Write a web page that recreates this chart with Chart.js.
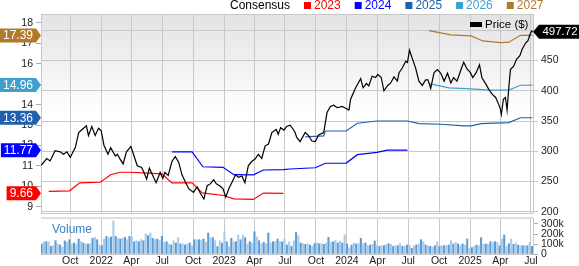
<!DOCTYPE html>
<html>
<head>
<meta charset="utf-8">
<script src="https://cdn.jsdelivr.net/npm/chart.js@4.4.1/dist/chart.umd.min.js"></script>
<style>
  html, body { margin: 0; padding: 0; background: #fff; }
  #wrap { position: relative; width: 579px; height: 266px; overflow: hidden; }
  #main { position: absolute; left: 0; top: 0; }
  #vol { position: absolute; left: 0; top: 208px; }
</style>
</head>
<body>
<div id="wrap">
  <canvas id="main" width="579" height="223"></canvas>
  <canvas id="vol" width="579" height="58"></canvas>
</div>
<script>
// ---- data ----
const quarterTicks = ['2021-10-01', '2022-01-01', '2022-04-01', '2022-07-01', '2022-10-01', '2023-01-01',
  '2023-04-01', '2023-07-01', '2023-10-01', '2024-01-01', '2024-04-01', '2024-07-01', '2024-10-01',
  '2025-01-01', '2025-04-01', '2025-07-01'];
const quarterLabels = ['Oct', '2022', 'Apr', 'Jul', 'Oct', '2023', 'Apr', 'Jul', 'Oct', '2024', 'Apr', 'Jul',
  'Oct', '2025', 'Apr', 'Jul'];
const epsTicks = [9, 10, 11, 12, 13, 14, 15, 16, 17, 18];
const priceTicks = [200, 250, 300, 350, 400, 450, 500];
const volumeTicks = [0, 100, 200, 300];

const price = [
  ['2021-07-07', 277], ['2021-07-23', 288], ['2021-08-02', 284], ['2021-08-17', 301], ['2021-09-01', 299],
  ['2021-09-11', 295], ['2021-09-21', 299], ['2021-10-01', 290], ['2021-10-16', 306], ['2021-10-26', 331],
  ['2021-11-05', 336], ['2021-11-18', 342], ['2021-11-24', 326], ['2021-12-04', 341], ['2021-12-14', 326],
  ['2021-12-24', 338], ['2022-01-01', 334], ['2022-01-09', 310], ['2022-01-21', 295], ['2022-01-29', 306],
  ['2022-02-12', 292], ['2022-02-18', 295], ['2022-02-26', 287], ['2022-03-07', 279], ['2022-03-17', 299],
  ['2022-03-30', 308], ['2022-04-08', 293], ['2022-04-18', 276], ['2022-05-01', 273], ['2022-05-08', 265],
  ['2022-05-16', 254], ['2022-05-24', 272], ['2022-06-03', 260], ['2022-06-13', 248], ['2022-06-25', 265],
  ['2022-07-03', 255], ['2022-07-09', 265], ['2022-07-19', 260], ['2022-07-30', 283], ['2022-08-09', 291],
  ['2022-08-19', 282], ['2022-08-29', 261], ['2022-09-08', 249], ['2022-09-18', 238], ['2022-10-02', 232],
  ['2022-10-13', 241], ['2022-10-23', 230], ['2022-11-02', 221], ['2022-11-12', 243], ['2022-11-21', 246],
  ['2022-12-01', 253], ['2022-12-09', 246], ['2022-12-19', 243], ['2022-12-29', 238], ['2023-01-06', 224],
  ['2023-01-15', 238], ['2023-01-25', 249], ['2023-02-04', 261], ['2023-02-13', 257], ['2023-02-23', 259],
  ['2023-03-04', 248], ['2023-03-14', 276], ['2023-03-24', 283], ['2023-04-03', 287], ['2023-04-13', 295],
  ['2023-04-23', 288], ['2023-05-03', 309], ['2023-05-13', 312], ['2023-05-23', 331], ['2023-06-05', 336],
  ['2023-06-11', 328], ['2023-06-18', 339], ['2023-06-28', 335], ['2023-07-06', 341], ['2023-07-16', 343],
  ['2023-07-26', 336], ['2023-07-31', 331], ['2023-08-05', 323], ['2023-08-15', 316], ['2023-08-30', 331],
  ['2023-09-09', 326], ['2023-09-19', 317], ['2023-09-29', 316], ['2023-10-09', 327], ['2023-10-24', 331],
  ['2023-11-03', 364], ['2023-11-13', 374], ['2023-11-23', 376], ['2023-12-03', 372], ['2023-12-18', 374],
  ['2023-12-28', 371], ['2024-01-07', 368], ['2024-01-12', 386], ['2024-01-27', 405], ['2024-02-11', 420],
  ['2024-02-18', 405], ['2024-02-28', 412], ['2024-03-06', 408], ['2024-03-16', 424], ['2024-03-26', 422],
  ['2024-04-02', 427], ['2024-04-12', 422], ['2024-04-20', 400], ['2024-04-30', 408], ['2024-05-10', 413],
  ['2024-05-20', 423], ['2024-05-30', 416], ['2024-06-04', 430], ['2024-06-14', 438], ['2024-06-24', 449],
  ['2024-06-29', 447], ['2024-07-05', 467], ['2024-07-13', 454], ['2024-07-23', 438], ['2024-08-02', 416],
  ['2024-08-12', 409], ['2024-08-22', 418], ['2024-08-29', 418], ['2024-09-06', 404], ['2024-09-16', 430],
  ['2024-09-26', 435], ['2024-10-06', 429], ['2024-10-16', 416], ['2024-10-26', 429], ['2024-11-05', 413],
  ['2024-11-13', 422], ['2024-11-23', 416], ['2024-11-30', 427], ['2024-12-07', 438], ['2024-12-13', 447],
  ['2024-12-23', 436], ['2025-01-02', 430], ['2025-01-09', 422], ['2025-01-19', 430], ['2025-01-29', 443],
  ['2025-02-05', 422], ['2025-02-17', 411], ['2025-02-26', 402], ['2025-03-08', 394], ['2025-03-18', 389],
  ['2025-03-25', 380], ['2025-03-31', 372], ['2025-04-04', 361], ['2025-04-10', 386], ['2025-04-16', 389],
  ['2025-04-21', 368], ['2025-04-26', 405], ['2025-05-01', 435], ['2025-05-11', 441], ['2025-05-19', 452],
  ['2025-05-29', 458], ['2025-06-05', 469], ['2025-06-15', 479], ['2025-06-22', 483], ['2025-06-28', 493],
  ['2025-07-03', 499], ['2025-07-06', 497.72]
];

const eps2023 = [
  ['2021-07-29', 9.75], ['2021-09-29', 9.78], ['2021-10-29', 10.17], ['2021-12-29', 10.20], ['2022-01-29', 10.57],
  ['2022-02-26', 10.69], ['2022-03-27', 10.69], ['2022-05-06', 10.66], ['2022-06-30', 10.61], ['2022-07-30', 10.17],
  ['2022-09-28', 10.17], ['2022-10-28', 9.68], ['2022-12-31', 9.55], ['2023-01-30', 9.39], ['2023-03-29', 9.36],
  ['2023-04-28', 9.67], ['2023-06-26', 9.66]
];
const eps2024 = [
  ['2022-07-30', 11.69], ['2022-09-28', 11.69], ['2022-10-30', 10.96], ['2022-12-29', 10.93], ['2023-01-30', 10.57],
  ['2023-03-29', 10.56], ['2023-04-28', 10.80], ['2023-06-26', 10.82], ['2023-07-16', 10.85], ['2023-09-29', 10.91],
  ['2023-10-29', 11.13], ['2023-12-30', 11.14], ['2024-02-01', 11.55], ['2024-03-30', 11.66], ['2024-04-30', 11.77],
  ['2024-06-29', 11.77]
];
const eps2025 = [
  ['2023-08-30', 12.42], ['2023-10-24', 12.47], ['2023-10-29', 12.71], ['2023-12-30', 12.71], ['2024-02-01', 13.09],
  ['2024-03-30', 13.20], ['2024-06-29', 13.20], ['2024-08-02', 13.07], ['2024-10-06', 13.04], ['2024-12-14', 12.96],
  ['2025-01-04', 12.96], ['2025-02-03', 13.07], ['2025-04-26', 13.12], ['2025-05-31', 13.36], ['2025-07-05', 13.36]
];
const eps2026 = [
  ['2024-09-01', 15.03], ['2024-10-30', 14.82], ['2025-01-04', 14.77], ['2025-03-02', 14.71], ['2025-04-26', 14.71],
  ['2025-05-31', 14.95], ['2025-07-05', 14.96]
];
const eps2027 = [
  ['2024-09-01', 17.63], ['2024-11-05', 17.42], ['2025-01-04', 17.37], ['2025-02-08', 17.12], ['2025-04-02', 17.04],
  ['2025-04-26', 17.06], ['2025-05-31', 17.40], ['2025-07-05', 17.39]
];

// weekly volume, thousands of shares
const volumeK = [
  100, 123, 123, 123, 77, 83, 133, 100, 90, 67, 130, 117, 143, 100, 110, 100, 150, 123, 110, 100,
  100, 103, 157, 167, 143, 90, 83, 150, 177, 163, 170, 333, 177, 157, 150, 157, 167, 143, 177, 167,
  123, 133, 123, 143, 133, 200, 183, 210, 157, 143, 150, 133, 177, 117, 123, 100, 90,
  133, 110, 163, 100, 103, 90, 100, 110, 83, 143, 143, 143, 137, 150, 117, 210, 163, 163, 133,
  73, 133, 110, 223, 123, 73, 157, 123, 123, 190, 143, 190, 163, 100, 123, 110, 223, 170, 133, 100,
  117, 100, 210, 110, 123, 123, 150, 123, 123, 150, 90, 123, 77,
  133, 217, 183, 110, 103, 97, 103, 90, 77, 103, 110, 103, 103, 97, 110, 167, 117, 123, 137, 110,
  130, 110, 193, 100, 63, 90, 110, 100, 103, 157, 103, 110, 83, 90, 97, 130, 90, 77, 83, 83,
  97, 103, 97, 77, 83, 83, 103, 77, 77, 90, 90, 57,
  83, 90, 100, 143, 123, 90, 83, 77, 67, 83, 123, 77, 83, 83, 83, 90, 133, 100, 117, 100,
  83, 100, 90, 150, 57, 63, 77, 90, 83, 163, 97, 100, 97, 123, 117, 123, 117, 83, 150, 190,
  77, 103, 150, 97, 110, 90, 83, 83, 83, 83, 117, 77
];

// ---- helpers ----
const t = d => Date.parse(d);
const xMin = t('2021-07-06'), xMax = t('2025-07-07');
const volFirst = t('2021-07-08'), volLast = t('2025-07-04');
const pts = arr => arr.map(p => ({ x: t(p[0]), y: p[1] }));
const last = arr => arr[arr.length - 1][1];

const colors = {
  price: '#000000', e2023: '#ff0000', e2024: '#0000ff', e2025: '#1f5fae', e2026: '#3fa0d0', e2027: '#b07a2a'
};
const gridColor = '#c8c8c8';

Chart.defaults.font.family = '"Liberation Sans", Arial, Helvetica, sans-serif';
Chart.defaults.font.size = 10.5;
Chart.defaults.color = '#222';

function xScale(showLabels) {
  return {
    type: 'linear', min: xMin, max: xMax, offset: false,
    afterBuildTicks: a => { a.ticks = quarterTicks.map(d => ({ value: t(d) })); },
    ticks: { display: showLabels, autoSkip: false, maxRotation: 0, padding: 1, callback: (v, i) => quarterLabels[i] },
    grid: { color: gridColor, drawTicks: false, offset: false },
    border: { color: gridColor }
  };
}

function drawLeftBadge(ctx, y, text, color) {
  ctx.font = '12px "Liberation Sans", Arial, sans-serif';
  const tw = ctx.measureText(text).width;
  const x1 = 36, tip = 41, h = 14;
  const x0 = Math.max(0, x1 - tw - 6);
  ctx.fillStyle = color;
  ctx.beginPath();
  ctx.moveTo(x0, y - h / 2); ctx.lineTo(x1, y - h / 2); ctx.lineTo(tip, y);
  ctx.lineTo(x1, y + h / 2); ctx.lineTo(x0, y + h / 2); ctx.closePath();
  ctx.fill();
  ctx.fillStyle = '#fff';
  ctx.textAlign = 'center';
  ctx.textBaseline = 'middle';
  ctx.fillText(text, (x0 + x1) / 2, y + 0.5);
}

const overlay = {
  id: 'overlay',
  beforeDraw(chart) {
    const { ctx, chartArea: a } = chart;
    const g = ctx.createLinearGradient(0, a.top, 0, a.bottom);
    g.addColorStop(0, '#e3e3e3');
    g.addColorStop(0.5, '#ffffff');
    g.addColorStop(1, '#ffffff');
    ctx.save();
    ctx.fillStyle = g;
    ctx.fillRect(a.left, a.top, a.right - a.left, a.bottom - a.top);
    ctx.restore();
  },
  afterDraw(chart) {
    const { ctx, chartArea: a, scales } = chart;
    ctx.save();
    // top frame line
    ctx.strokeStyle = gridColor;
    ctx.lineWidth = 1;
    ctx.beginPath(); ctx.moveTo(a.left, a.top + 0.5); ctx.lineTo(a.right, a.top + 0.5); ctx.stroke();

    // consensus legend
    ctx.font = '12px "Liberation Sans", Arial, sans-serif';
    ctx.textBaseline = 'middle';
    ctx.textAlign = 'left';
    ctx.fillStyle = '#000';
    ctx.fillText('Consensus', 230, 6);
    const items = [['2023', colors.e2023], ['2024', colors.e2024], ['2025', colors.e2025],
      ['2026', colors.e2026], ['2027', colors.e2027]];
    let x = 304;
    items.forEach(([label, c]) => {
      ctx.fillStyle = c;
      ctx.fillRect(x, 2, 7, 7);
      ctx.fillText(label, x + 10, 6);
      x += 10 + ctx.measureText(label).width + 14;
    });

    // price legend
    ctx.fillStyle = '#000';
    ctx.fillRect(470, 22, 12, 5);
    ctx.font = '11.5px "Liberation Sans", Arial, sans-serif';
    ctx.fillText('Price ($)', 485, 25);

    // left badges
    const yL = scales.yL;
    [[eps2027, colors.e2027], [eps2026, colors.e2026], [eps2025, colors.e2025],
     [eps2024, colors.e2024], [eps2023, colors.e2023]].forEach(([s, c]) => {
      drawLeftBadge(ctx, yL.getPixelForValue(last(s)), last(s).toFixed(2), c);
    });

    // right price badge
    const py = scales.yR.getPixelForValue(last(price));
    const h = 14;
    ctx.fillStyle = '#000';
    ctx.beginPath();
    ctx.moveTo(533, py); ctx.lineTo(539, py - h / 2); ctx.lineTo(579, py - h / 2);
    ctx.lineTo(579, py + h / 2); ctx.lineTo(539, py + h / 2); ctx.closePath();
    ctx.fill();
    ctx.fillStyle = '#fff';
    ctx.font = '11.5px "Liberation Sans", Arial, sans-serif';
    ctx.textAlign = 'center';
    ctx.fillText(last(price).toFixed(2), 560, py + 0.5);
    ctx.restore();
  }
};

const lineDs = (data, color, axis) => ({
  data: pts(data), borderColor: color, borderWidth: 1.2, pointRadius: 0, tension: 0, yAxisID: axis, fill: false
});

new Chart(document.getElementById('main'), {
  type: 'line',
  data: {
    datasets: [
      lineDs(price, colors.price, 'yR'),
      lineDs(eps2027, colors.e2027, 'yL'),
      lineDs(eps2026, colors.e2026, 'yL'),
      lineDs(eps2025, colors.e2025, 'yL'),
      lineDs(eps2024, colors.e2024, 'yL'),
      lineDs(eps2023, colors.e2023, 'yL')
    ]
  },
  options: {
    responsive: false,
    animation: false,
    layout: { padding: { top: 14, bottom: 8, left: 0, right: 0 } },
    plugins: { legend: { display: false }, tooltip: { enabled: false } },
    scales: {
      x: Object.assign(xScale(false), { afterFit: a => { a.height = 0; } }),
      yL: {
        position: 'left', min: 8.66, max: 18.44,
        afterBuildTicks: a => { a.ticks = epsTicks.map(v => ({ value: v })); },
        afterFit: a => { a.width = 41; },
        ticks: { padding: 3, autoSkip: false },
        grid: { drawOnChartArea: false, tickLength: 5, color: '#aaa' },
        border: { color: gridColor }
      },
      yR: {
        position: 'right', min: 196.7, max: 527,
        afterBuildTicks: a => { a.ticks = priceTicks.map(v => ({ value: v })); },
        afterFit: a => { a.width = 46; },
        ticks: { padding: 3, autoSkip: false },
        grid: { color: gridColor, tickLength: 5 },
        border: { color: gridColor }
      }
    }
  },
  plugins: [overlay]
});

const volTop = {
  id: 'volTop',
  afterDraw(chart) {
    const { ctx, chartArea: a } = chart;
    ctx.save();
    ctx.fillStyle = '#dedede';
    ctx.fillRect(a.left, a.top - 1, a.right - a.left, 2);
    ctx.font = '12px "Liberation Sans", Arial, sans-serif';
    ctx.fillStyle = '#3b82c4';
    ctx.textBaseline = 'middle';
    ctx.textAlign = 'left';
    ctx.fillText('Volume', 52, a.top + 11.5);
    ctx.restore();
  }
};

const volStep = (volLast - volFirst) / (volumeK.length - 1);

new Chart(document.getElementById('vol'), {
  type: 'bar',
  data: {
    datasets: [{
      data: volumeK.map((v, i) => ({ x: volFirst + i * volStep, y: v })),
      backgroundColor: volumeK.map((v, i) => (i % 2 ? '#a9cbea' : '#5b9bd5')),
      barThickness: 1.4,
      yAxisID: 'yV'
    }]
  },
  options: {
    responsive: false,
    animation: false,
    layout: { padding: { top: 10, bottom: 0, left: 41, right: 0 } },
    plugins: { legend: { display: false }, tooltip: { enabled: false } },
    scales: {
      x: Object.assign(xScale(true), { afterFit: a => { a.height = 12; } }),
      yV: {
        position: 'right', min: 0, max: 360,
        afterBuildTicks: a => { a.ticks = volumeTicks.map(v => ({ value: v })); },
        afterFit: a => { a.width = 46; },
        ticks: { padding: 3, autoSkip: false, callback: v => (v ? v + 'k' : '0') },
        grid: { drawOnChartArea: false, tickLength: 5, color: '#aaa' },
        border: { color: gridColor }
      }
    }
  },
  plugins: [volTop]
});
</script>
</body>
</html>
